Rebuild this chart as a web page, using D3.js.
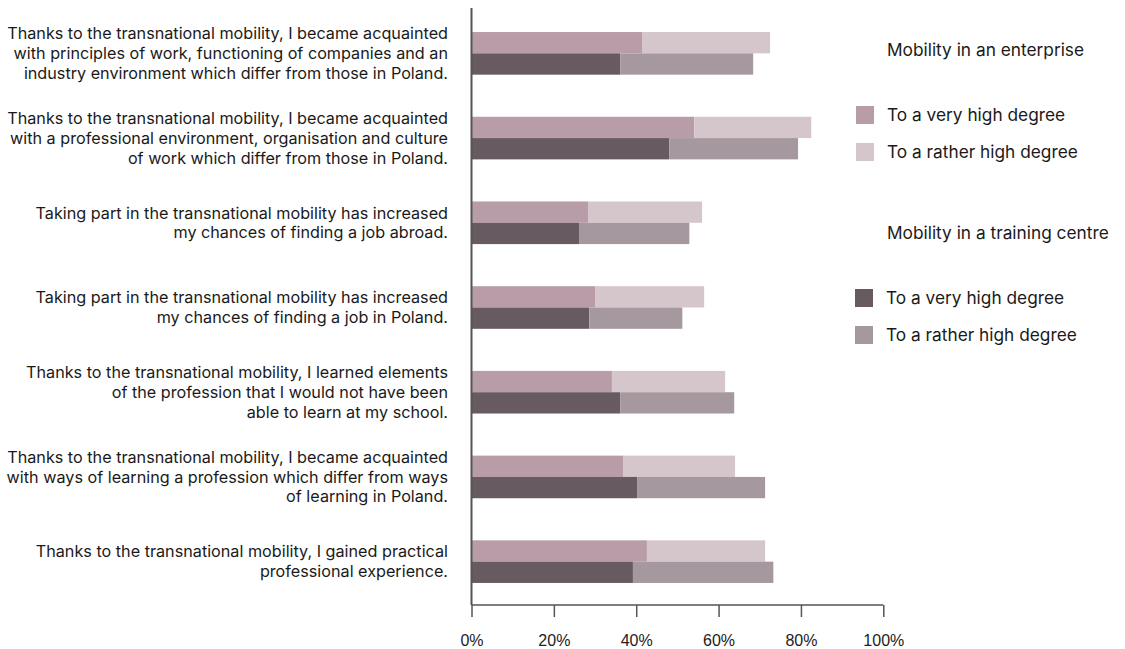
<!DOCTYPE html>
<html><head><meta charset="utf-8">
<script src="https://cdn.jsdelivr.net/npm/d3@7"></script>
<style>body{margin:0;background:#fff}svg{display:block}</style>
</head><body>
<svg id="c" width="1125" height="649"></svg>
<script>
const categories = [
  ["Thanks to the transnational mobility, I became acquainted","with principles of work, functioning of companies and an","industry environment which differ from those in Poland."],
  ["Thanks to the transnational mobility, I became acquainted","with a professional environment, organisation and culture","of work which differ from those in Poland."],
  ["Taking part in the transnational mobility has increased","my chances of finding a job abroad."],
  ["Taking part in the transnational mobility has increased","my chances of finding a job in Poland."],
  ["Thanks to the transnational mobility, I learned elements","of the profession that I would not have been","able to learn at my school."],
  ["Thanks to the transnational mobility, I became acquainted","with ways of learning a profession which differ from ways","of learning in Poland."],
  ["Thanks to the transnational mobility, I gained practical","professional experience."]
];
const enterpriseVeryHigh   = [41.4, 54.1, 28.3, 30.0, 34.1, 36.8, 42.6];
const enterpriseRatherHigh = [31.1, 28.4, 27.7, 26.5, 27.5, 27.2, 28.7];
const trainingVeryHigh     = [36.1, 48.0, 26.1, 28.6, 36.1, 40.2, 39.2];
const trainingRatherHigh   = [32.3, 31.3, 26.8, 22.6, 27.7, 31.1, 34.1];
const tickValues = [0, 20, 40, 60, 80, 100];
const legendGroups = ["Mobility in an enterprise", "Mobility in a training centre"];
const legendItems = ["To a very high degree", "To a rather high degree"];

const colors = {
  entVery: "#b89ca7", entRather: "#d5c6cb",
  trVery: "#675a61", trRather: "#a5999f"
};

const svg = d3.select("#c");
const x = d3.scaleLinear().domain([0, 100]).range([471.5, 883.3]);
const idx = categories.map((d, i) => i);
const y = d3.scaleBand().domain(idx).range([11, 604]).paddingInner(0.497).paddingOuter(0.2485);
const bh = y.bandwidth() / 2;

const g = svg.append("g");
idx.forEach(i => {
  const y0 = y(i);
  const rows = [
    {yy: y0, a: enterpriseVeryHigh[i], b: enterpriseRatherHigh[i], ca: colors.entVery, cb: colors.entRather},
    {yy: y0 + bh, a: trainingVeryHigh[i], b: trainingRatherHigh[i], ca: colors.trVery, cb: colors.trRather}
  ];
  rows.forEach(r => {
    g.append("rect").attr("x", x(0)).attr("y", r.yy).attr("width", x(r.a) - x(0)).attr("height", bh).attr("fill", r.ca);
    g.append("rect").attr("x", x(r.a)).attr("y", r.yy).attr("width", x(r.a + r.b) - x(r.a)).attr("height", bh).attr("fill", r.cb);
  });
  const lines = categories[i];
  const cy = y0 + y.bandwidth() / 2;
  const lh = 19.8;
  const t = svg.append("text").attr("text-anchor", "end")
    .attr("font-family", "Inter, 'Noto Sans', sans-serif").attr("font-size", "16.2px").attr("fill", "#1a1a1a");
  lines.forEach((ln, k) => {
    t.append("tspan").attr("x", 448).attr("y", cy + (k - (lines.length - 1) / 2) * lh).attr("dy", "0.35em").text(ln);
  });
});

// axes
const axisY = 605;
svg.append("line").attr("x1", x(0)).attr("x2", x(0)).attr("y1", 8).attr("y2", axisY).attr("stroke", "#555").attr("stroke-width", 2);
const xAxis = d3.axisBottom(x).tickValues(tickValues).tickFormat(d => d + "%").tickSize(12).tickPadding(18);
const ax = svg.append("g").attr("transform", `translate(0,${axisY})`).call(xAxis);
ax.select(".domain").attr("stroke", "#555").attr("stroke-width", 1.5).attr("d", `M${x(0)},0H${x(100)}`);
ax.selectAll(".tick line").attr("stroke", "#555").attr("stroke-width", 1.5);
ax.selectAll(".tick text").attr("font-family", "'Liberation Sans', Arial, sans-serif").attr("font-size", "16px").attr("fill", "#222");

// legend
const lg = svg.append("g").attr("font-family", "Inter, 'Noto Sans', sans-serif").attr("font-size", "17.3px").attr("fill", "#1a1a1a");
const legendCols = [[colors.entVery, colors.entRather], [colors.trVery, colors.trRather]];
const groupTitleY = [50, 233];
legendGroups.forEach((title, gi) => {
  const ty = groupTitleY[gi];
  lg.append("text").attr("x", 887).attr("y", ty).attr("dy", "0.35em").text(title);
  legendItems.forEach((it, k) => {
    const iy = ty + 65 + k * 37;
    lg.append("rect").attr("x", 856 - gi).attr("y", iy - 9).attr("width", 18).attr("height", 18).attr("fill", legendCols[gi][k]);
    lg.append("text").attr("x", 887 - gi).attr("y", iy).attr("dy", "0.35em").text(it);
  });
});
</script>
</body></html>
